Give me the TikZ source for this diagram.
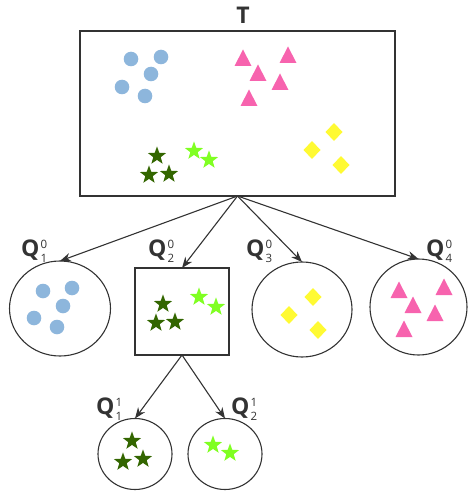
\documentclass[tikz,border=0pt]{standalone}
\usepackage{fontspec}
\setmainfont{Open Sans}
\usetikzlibrary{shapes.geometric,arrows.meta}

\definecolor{edgegray}{HTML}{333333}
\definecolor{dotblue}{HTML}{8DB6DC}
\definecolor{tripink}{HTML}{F763AE}
\definecolor{diayellow}{HTML}{FFFA33}
\definecolor{stardark}{HTML}{336600}
\definecolor{starlight}{HTML}{80FF22}

% small filled glyphs, given by their centre in picture units
\newcommand\dotat[2]{\fill[dotblue] (#1,#2) circle (7.3pt);}
\newcommand\triat[2]{\fill[tripink] (#1,#2) ++(0,-8.5) -- ++(8.5,16.5) -- ++(-17,0) -- cycle;}
\newcommand\diaat[2]{\fill[diayellow] (#1,#2) ++(0,-9) -- ++(8.5,9) -- ++(-8.5,9) -- ++(-8.5,-9) -- cycle;}
\newcommand\starat[3]{%
  \begin{scope}[shift={(#1,#2)}]
    \fill[#3] (270:9.6) \foreach \k in {1,...,9}{ -- ({270+36*\k}:{ifthenelse(mod(\k,2)==1,3.9,9.6)}) } -- cycle;
  \end{scope}}

% cluster labels Q with stacked super- and subscript
\newcommand\qlab[2]{\textbf{Q}\kern1.2pt\raisebox{-6pt}{\fontsize{11.5}{11.5}\selectfont\shortstack[l]{#1\\[2.5pt]#2}}}

\tikzset{
  box/.style={draw=edgegray, line width=1.1pt, rectangle, inner sep=0pt, outer sep=0pt},
  blob/.style={draw=edgegray, line width=1.1pt, ellipse, inner sep=0pt, outer sep=0pt},
  arr/.style={draw=edgegray, line width=1.1pt, -{Stealth[length=11pt,width=8.5pt]}},
  lab/.style={anchor=base west, inner sep=0pt, text=edgegray, font=\fontsize{23}{23}\selectfont},
}

\begin{document}
\begin{tikzpicture}[x=1pt, y=-1pt]
\useasboundingbox (0,0) rectangle (468,492);

% root set
\node[anchor=base, inner sep=0pt, text=edgegray, font=\fontsize{23}{23}\selectfont\bfseries] (ttl) at (243,24) {T};
\node[box, minimum width=315pt, minimum height=165pt] (T) at (237.5,113.5) {};

% first level
\node[blob, minimum width=101pt, minimum height=95pt] (Q1) at (60,308.5) {};
\node[box, minimum width=94pt, minimum height=87pt] (Q2) at (182,311.5) {};
\node[blob, minimum width=100pt, minimum height=95pt] (Q3) at (302,309.5) {};
\node[blob, minimum width=97pt, minimum height=96pt] (Q4) at (418.5,307) {};

% second level
\node[blob, minimum width=74pt, minimum height=71pt] (R1) at (135,454) {};
\node[blob, minimum width=74pt, minimum height=71pt] (R2) at (225,454) {};

% labels
\node[lab] (l1) at (21,256) {\qlab{0}{1}};
\node[lab] (l2) at (148,256) {\qlab{0}{2}};
\node[lab] (l3) at (246,256) {\qlab{0}{3}};
\node[lab] (l4) at (426,256) {\qlab{0}{4}};
\node[lab] (l5) at (96,414) {\qlab{1}{1}};
\node[lab] (l6) at (231,414) {\qlab{1}{2}};

% connectors
\draw[arr] (T.south) -- (Q1.north);
\draw[arr] (T.south) -- (Q2.north);
\draw[arr] (T.south) -- (Q3.north);
\draw[arr] (T.south) -- (Q4.north);
\draw[arr] (Q2.south) -- (R1.north);
\draw[arr] (Q2.south) -- (R2.north);

% contents of T
\dotat{131}{59}\dotat{161}{57}\dotat{151}{74}\dotat{122}{87}\dotat{145}{96}
\triat{243}{58}\triat{288}{55}\triat{258}{73}\triat{280}{82}\triat{249}{98}
\diaat{334}{132}\diaat{312}{150}\diaat{341}{165}
\starat{157}{156}{stardark}\starat{149}{175}{stardark}\starat{169}{174}{stardark}
\starat{194}{151}{starlight}\starat{209}{160}{starlight}

% contents of the first level
\dotat{43}{291}\dotat{72}{288}\dotat{63}{306}\dotat{34}{318}\dotat{57}{327}
\starat{163}{304}{stardark}\starat{156}{323}{stardark}\starat{175}{322}{stardark}
\starat{199}{297}{starlight}\starat{216}{307}{starlight}
\diaat{313}{297}\diaat{289}{315}\diaat{318}{330}
\triat{399}{290}\triat{444}{287}\triat{413}{305}\triat{435}{313}\triat{404}{329}

% contents of the second level
\starat{132}{441}{stardark}\starat{123}{462}{stardark}\starat{143}{459}{stardark}
\starat{213}{445}{starlight}\starat{230}{453}{starlight}
\end{tikzpicture}
\end{document}
